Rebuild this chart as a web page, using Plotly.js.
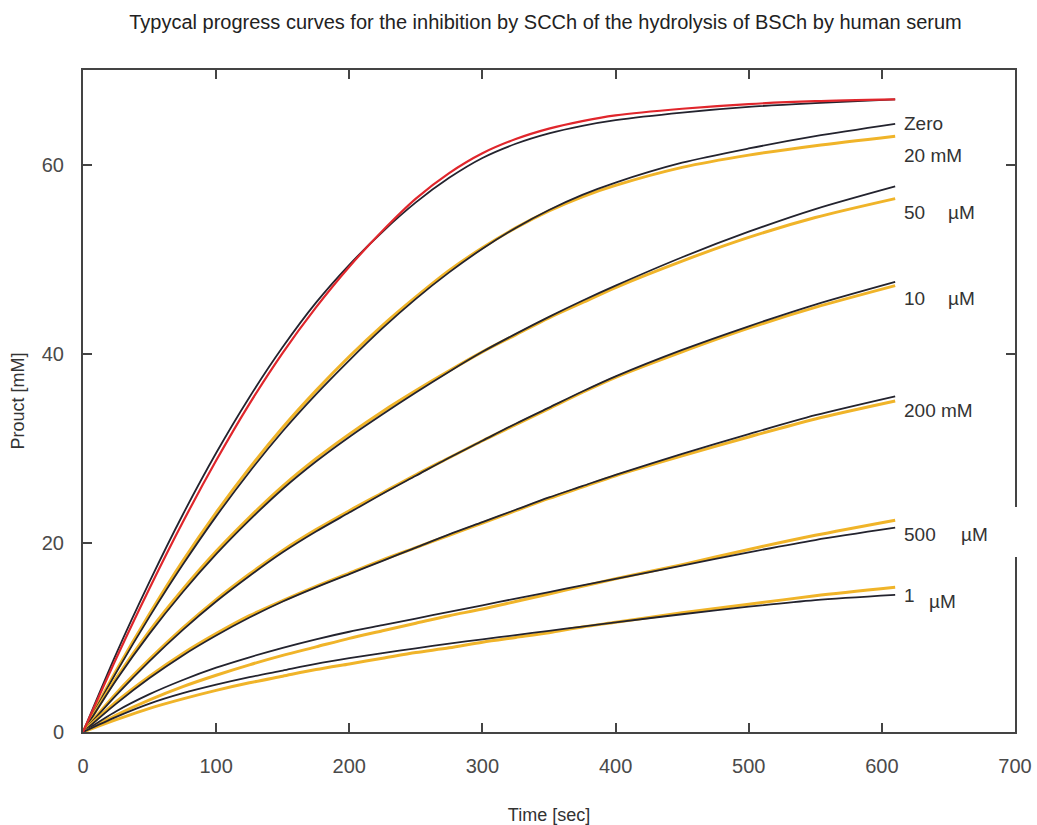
<!DOCTYPE html>
<html>
<head>
<meta charset="utf-8">
<script src="https://cdn.plot.ly/plotly-3.0.1.min.js"></script>
<style>html,body{margin:0;padding:0;background:#fff;}#chart{width:1037px;height:825px;}</style>
</head>
<body>
<div id="chart"></div>
<script>
// Time points [sec]
const timeSec = [0,25,50,75,100,125,150,175,200,225,250,275,300,325,350,375,400,450,500,550,610];

// Top pair (red + black)
const redTop   = [0,7.8,15.2,22.2,28.7,34.7,40.1,44.9,49.2,53.0,56.4,59.1,61.2,62.7,63.8,64.6,65.2,65.9,66.4,66.7,66.9];
const blackTop = [0,8.3,15.9,23.0,29.5,35.4,40.7,45.4,49.4,52.9,56.0,58.6,60.7,62.2,63.3,64.1,64.7,65.5,66.1,66.5,66.9];

// "Zero" / "20 mM"
const blackZero  = [0,6.3,12.2,17.7,22.8,27.5,31.8,35.7,39.3,42.7,45.8,48.6,51.1,53.3,55.2,56.8,58.1,60.2,61.7,63.0,64.3];
const orangeZero = [0,6.5,12.5,18.1,23.2,27.9,32.2,36.1,39.7,43.0,46.0,48.8,51.2,53.3,55.1,56.6,57.8,59.7,61.0,62.0,63.0];

// "50 µM"
const black50  = [0,5.5,10.4,14.8,18.8,22.4,25.7,28.6,31.2,33.6,35.9,38.1,40.2,42.1,43.9,45.6,47.2,50.2,52.9,55.3,57.7];
const orange50 = [0,5.7,10.7,15.1,19.1,22.7,26.0,28.9,31.5,33.9,36.1,38.2,40.2,42.0,43.8,45.4,47.0,49.8,52.3,54.4,56.4];

// "10 µM"
const black10  = [0,3.9,7.5,10.8,13.8,16.5,19.0,21.2,23.2,25.2,27.1,29.0,30.8,32.6,34.3,36.0,37.6,40.4,42.9,45.2,47.6];
const orange10 = [0,4.1,7.7,11.0,14.0,16.7,19.2,21.4,23.4,25.3,27.2,29.0,30.8,32.5,34.2,35.9,37.5,40.2,42.7,44.9,47.2];

// "200 mM"
const black200  = [0,3.0,5.7,8.1,10.2,12.1,13.8,15.3,16.7,18.1,19.5,20.9,22.2,23.5,24.8,26.0,27.2,29.4,31.5,33.5,35.5];
const orange200 = [0,3.2,5.9,8.3,10.4,12.3,13.9,15.4,16.8,18.2,19.5,20.8,22.1,23.4,24.7,25.9,27.1,29.2,31.2,33.1,35.0];

// "500 µM"
const black500  = [0,2.2,4.0,5.5,6.8,7.9,8.9,9.8,10.6,11.3,12.0,12.7,13.4,14.1,14.8,15.5,16.2,17.6,19.0,20.3,21.6];
const orange500 = [0,1.8,3.4,4.8,6.0,7.1,8.1,9.0,9.9,10.7,11.5,12.3,13.0,13.8,14.6,15.4,16.2,17.7,19.3,20.8,22.4];

// "1 µM"
const black1  = [0,1.6,3.0,4.1,5.0,5.8,6.5,7.2,7.8,8.35,8.85,9.35,9.8,10.25,10.7,11.15,11.6,12.45,13.25,13.95,14.5];
const orange1 = [0,1.3,2.5,3.5,4.4,5.2,5.9,6.6,7.2,7.8,8.4,8.9,9.5,10.0,10.5,11.1,11.6,12.6,13.5,14.4,15.3];

// Curve labels
const labelMain = ["Zero","20 mM","50","10","200 mM","500","1"];
const labelY    = [64.3, 61.0, 54.9, 45.8, 34.0, 20.9, 14.4];
const unitText  = ["µM","µM","µM","µM"];
const unitY     = [54.9, 45.8, 20.9, 13.8];
const unitX     = [648, 648, 658, 634];

const BLACK = '#23232e', ORANGE = '#f0b429', RED = '#e0262c';
const traces = [];
function add(y, color, w) {
  traces.push({x: timeSec, y: y, type: 'scatter', mode: 'lines',
    line: {color: color, width: w, shape: 'spline', smoothing: 0.8},
    hoverinfo: 'skip', showlegend: false});
}
add(orangeZero, ORANGE, 3); add(blackZero, BLACK, 1.8);
add(orange50, ORANGE, 3);   add(black50, BLACK, 1.8);
add(orange10, ORANGE, 3);   add(black10, BLACK, 1.8);
add(orange200, ORANGE, 3);  add(black200, BLACK, 1.8);
add(orange500, ORANGE, 3);  add(black500, BLACK, 1.8);
add(orange1, ORANGE, 3);    add(black1, BLACK, 1.8);
add(blackTop, BLACK, 1.8);  add(redTop, RED, 2.2);

const FONT = 'Liberation Sans, Arial, sans-serif';
const labelFont = {family: FONT, size: 19, color: '#333'};
const annotations = [];
labelMain.forEach((t, i) => annotations.push({x: 615, y: labelY[i], xref: 'x', yref: 'y',
  text: t, showarrow: false, xanchor: 'left', yanchor: 'middle', font: labelFont}));
unitText.forEach((t, i) => annotations.push({x: unitX[i], y: unitY[i], xref: 'x', yref: 'y',
  text: t, showarrow: false, xanchor: 'left', yanchor: 'middle', font: labelFont}));

const axisCommon = {
  showline: true, mirror: 'ticks', linecolor: '#444', linewidth: 2,
  ticks: 'inside', ticklen: 9, tickwidth: 2, tickcolor: '#444',
  showgrid: false, zeroline: false,
  tickfont: {family: FONT, size: 20, color: '#4a4a4a'}
};

const layout = {
  width: 1037, height: 825,
  paper_bgcolor: '#fff', plot_bgcolor: '#fff',
  margin: {l: 83, r: 22, t: 70, b: 93},
  title: {text: 'Typycal progress curves for the inhibition by SCCh of the hydrolysis of BSCh by human serum',
    x: 0.526, xanchor: 'center', y: 0.973, yanchor: 'middle',
    font: {family: FONT, size: 20, color: '#222'}},
  xaxis: Object.assign({}, axisCommon, {range: [0, 700], tickvals: [0,100,200,300,400,500,600,700],
    ticklabelstandoff: 15,
    title: {text: 'Time [sec]', standoff: 34, font: {family: FONT, size: 18, color: '#333'}}}),
  yaxis: Object.assign({}, axisCommon, {range: [0, 70], tickvals: [0,20,40,60],
    ticklabelstandoff: 13,
    title: {text: 'Prouct [mM]', standoff: 12, font: {family: FONT, size: 18, color: '#333'}}}),
  annotations: annotations,
  shapes: [{type: 'rect', xref: 'paper', yref: 'paper', x0: 0.985, x1: 1.012, y0: (825-93-557)/662, y1: (825-93-507)/662,
    fillcolor: '#fff', line: {width: 0}, layer: 'above'}]
};

Plotly.newPlot('chart', traces, layout, {displayModeBar: false, staticPlot: true});
</script>
</body>
</html>
